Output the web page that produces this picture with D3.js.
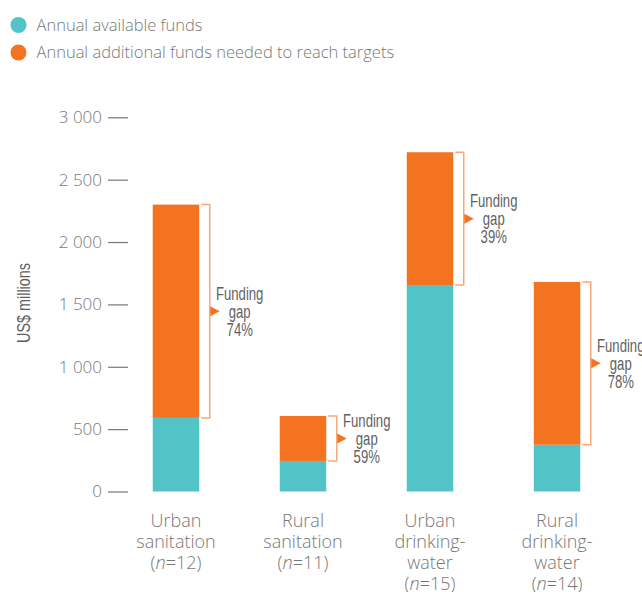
<!DOCTYPE html>
<html>
<head>
<meta charset="utf-8">
<script src="https://cdn.jsdelivr.net/npm/d3@7"></script>
<style>
  html, body { margin: 0; padding: 0; background: #fff; }
  svg { display: block; }
  .lite { font-family: "Open Sans", "Noto Sans", sans-serif; font-weight: 300; fill: #777; }
  .cond { font-family: "Liberation Sans", Arial, sans-serif; fill: #5f5f5f; }
</style>
</head>
<body>
<script>
// ---- data ----
const categories = ["Urban sanitation", "Rural sanitation", "Urban drinking-water", "Rural drinking-water"];
const labelLines = [["Urban", "sanitation"], ["Rural", "sanitation"], ["Urban", "drinking-", "water"], ["Rural", "drinking-", "water"]];
const sampleN = [12, 11, 15, 14];
const availableFunds = [590, 245, 1655, 375];
const additionalFunds = [1710, 360, 1065, 1305];
const gapLabels = ["74%", "59%", "39%", "78%"];
const yTicks = [0, 500, 1000, 1500, 2000, 2500, 3000];
const seriesNames = ["Annual available funds", "Annual additional funds needed to reach targets"];
const colors = ["#52c3c6", "#f47321"];

const W = 642, H = 592;
const svg = d3.select("body").append("svg").attr("width", W).attr("height", H);

const y = d3.scaleLinear().domain([0, 3000]).range([491.5, 117.3]);
const x = d3.scaleBand().domain(categories).range([130, 603]).paddingInner(0.634).paddingOuter(0.179);

// legend
const leg = svg.append("g");
seriesNames.forEach((s, i) => {
  leg.append("circle").attr("cx", 18.5).attr("cy", 25 + i * 27.5).attr("r", 8).attr("fill", colors[i]);
  leg.append("text").attr("class", "lite").attr("x", 36.5).attr("y", 25 + i * 27.5).attr("dy", "0.35em")
    .style("font-size", "16.5px").text(s);
});

// y axis
const loc = d3.formatLocale({ decimal: ".", thousands: "\u2009", grouping: [3], currency: ["$", ""] });
const fmt = v => loc.format(",")(v).replace(/\u2009/g, " ");
const yAxis = svg.append("g").attr("transform", "translate(128,0)")
  .call(d3.axisLeft(y).tickValues(yTicks).tickSize(20).tickPadding(6).tickFormat(fmt));
yAxis.select(".domain").remove();
yAxis.selectAll(".tick line").attr("stroke", "#777").attr("stroke-width", 1.2);
yAxis.selectAll(".tick text").attr("class", "lite").style("font-size", "17px").attr("fill", "#777");

svg.append("g").attr("transform", "translate(30,303) rotate(-90) scale(0.8,1)")
  .append("text").attr("class", "cond")
  .attr("text-anchor", "middle").style("font-size", "18px").attr("fill", "#555").text("US$ millions");

// bars
const data = categories.map((c, i) => ({ c, a: availableFunds[i], b: additionalFunds[i], g: gapLabels[i], lines: labelLines[i], n: sampleN[i] }));
const g = svg.append("g");
g.selectAll("rect.avail").data(data).join("rect")
  .attr("x", d => x(d.c)).attr("width", x.bandwidth())
  .attr("y", d => y(d.a)).attr("height", d => y(0) - y(d.a)).attr("fill", colors[0]);
g.selectAll("rect.add").data(data).join("rect")
  .attr("x", d => x(d.c)).attr("width", x.bandwidth())
  .attr("y", d => y(d.a + d.b)).attr("height", d => y(d.a) - y(d.a + d.b)).attr("fill", colors[1]);

// brackets and gap labels
data.forEach(d => {
  const r = x(d.c) + x.bandwidth();
  const bx = r + 10.5;
  const t = y(d.a + d.b), bt = y(d.a);
  const mid = (t + bt) / 2;
  svg.append("path")
    .attr("d", `M${r + 2},${t} H${bx} V${bt} H${r + 2}`)
    .attr("fill", "none").attr("stroke", "#f7a978").attr("stroke-width", 1.5);
  svg.append("path")
    .attr("d", `M${bx + 0.5},${mid - 5} L${bx + 10},${mid} L${bx + 0.5},${mid + 5} Z`)
    .attr("fill", colors[1]);
  const tx = svg.append("g").attr("transform", `translate(${bx + 30},${mid}) scale(0.75,1)`)
    .append("text").attr("class", "cond").attr("text-anchor", "middle")
    .style("font-size", "17.5px");
  ["Funding", "gap", d.g].forEach((s, i) => {
    tx.append("tspan").attr("x", 0).attr("y", -11.5 + i * 18).text(s);
  });
});

// x labels
data.forEach(d => {
  const cx = x(d.c) + x.bandwidth() / 2;
  const t = svg.append("text").attr("class", "lite").attr("text-anchor", "middle").style("font-size", "18px");
  d.lines.forEach((s, i) => t.append("tspan").attr("x", cx).attr("y", 527 + i * 21).text(s));
  t.append("tspan").attr("x", cx).attr("y", 527 + d.lines.length * 21)
    .html(`(<tspan style="font-style:italic">n</tspan>=${d.n})`);
});
</script>
</body>
</html>
